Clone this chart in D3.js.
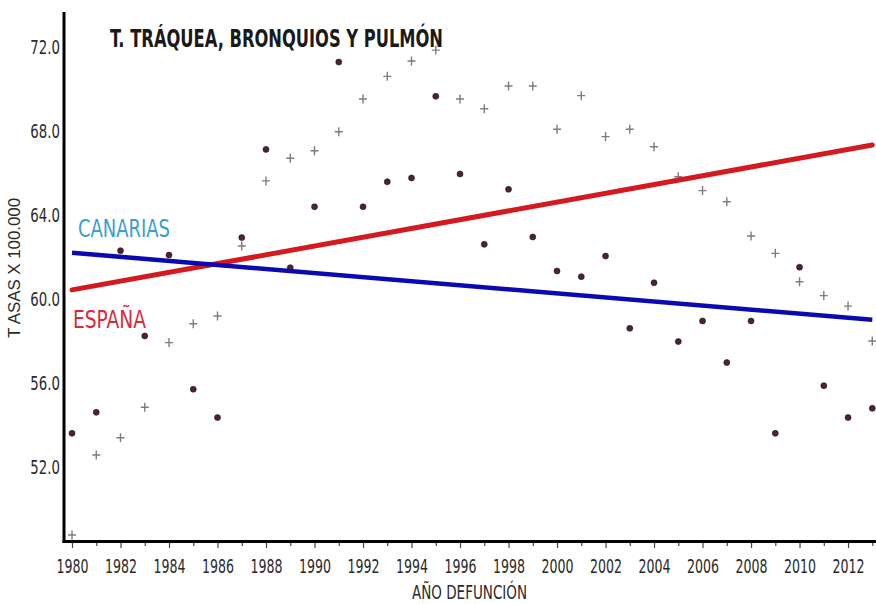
<!DOCTYPE html>
<html><head><meta charset="utf-8">
<script src="https://cdn.jsdelivr.net/npm/d3@7"></script>
<style>body{margin:0;background:#fff}svg{display:block}</style>
</head><body><svg id="c" width="876" height="604"></svg>
<script>
const years = [1980,1981,1982,1983,1984,1985,1986,1987,1988,1989,1990,1991,1992,1993,1994,1995,1996,
  1997,1998,1999,2000,2001,2002,2003,2004,2005,2006,2007,2008,2009,2010,2011,2012,2013];
// gray "+" markers
const crossValues = [48.62,52.43,53.25,54.70,57.78,58.68,59.05,62.38,65.48,66.56,66.92,67.82,69.38,70.46,
  71.19,71.71,69.38,68.92,70.00,70.00,67.94,69.54,67.59,67.94,67.11,65.68,65.02,64.49,62.86,62.03,60.68,60.02,59.52,57.86];
// dark dot markers
const dotValues = [53.46,54.46,62.16,58.10,61.95,55.56,54.21,62.78,66.98,61.35,64.25,71.14,64.25,65.44,
  65.62,69.51,65.81,62.46,65.08,62.81,61.19,60.92,61.90,58.46,60.63,57.83,58.81,56.83,58.81,53.46,61.37,55.73,54.21,54.65];
const trendYears = [1980, 2013];
const canariasTrend = [62.06, 58.87];
const espanaTrend = [60.29, 67.19];
const yTicks = [52, 56, 60, 64, 68, 72];
const xLabelYears = [1980,1982,1984,1986,1988,1990,1992,1994,1996,1998,2000,2002,2004,2006,2008,2010,2012];
const title = "T. TRÁQUEA, BRONQUIOS Y PULMÓN";
const yTitle = "T ASAS X 100.000";
const xTitle = "AÑO DEFUNCIÓN";

const narrow = "'Liberation Sans Narrow','Arial Narrow','DejaVu Sans Condensed','Liberation Sans',sans-serif";
const svg = d3.select("#c");
const x = d3.scaleLinear().domain([1980, 2013]).range([72, 872.3]);
const y = d3.scaleLinear().domain([52, 72]).range([464, 44]);

// points
svg.append("g").selectAll("path").data(years.map((yr,i)=>[yr,crossValues[i]])).join("path")
  .attr("d", d=>{const cx=x(d[0]), cy=y(d[1]); return `M${cx-4},${cy}H${cx+4}M${cx},${cy-4.5}V${cy+4.5}`;})
  .attr("stroke","#7d7d7d").attr("stroke-width",1.4).attr("fill","none");
svg.append("g").selectAll("circle").data(years.map((yr,i)=>[yr,dotValues[i]])).join("circle")
  .attr("cx",d=>x(d[0])).attr("cy",d=>y(d[1])).attr("r",3)
  .attr("fill","#4a2530").attr("stroke","#2a1015").attr("stroke-width",0.6);

// trend lines
const line = d3.line().x(d=>x(d[0])).y(d=>y(d[1]));
svg.append("path").datum(trendYears.map((yr,i)=>[yr,espanaTrend[i]])).attr("d",line)
  .attr("stroke","#d41a1f").attr("stroke-width",5).attr("fill","none").attr("stroke-linecap","round");
svg.append("path").datum(trendYears.map((yr,i)=>[yr,canariasTrend[i]])).attr("d",line)
  .attr("stroke","#0a0ab0").attr("stroke-width",4.5).attr("fill","none");

// x axis
const xAxis = d3.axisBottom(x).tickValues(years)
  .tickFormat(d=> xLabelYears.includes(d) ? String(d) : "").tickSizeOuter(0).tickPadding(9);
const gx = svg.append("g").attr("transform","translate(0,542)").call(xAxis);
gx.select(".domain").remove();
gx.selectAll(".tick line").attr("y2", d=> xLabelYears.includes(d) ? 6 : 4).attr("stroke","#444").attr("stroke-width",1.2);
gx.selectAll(".tick text").filter(d=>!xLabelYears.includes(d)).remove();
gx.selectAll(".tick text").attr("font-family",narrow).attr("font-size",20).attr("fill","#2a2a2a")
  .attr("dy",null).attr("y",31).attr("transform","scale(0.7,1)");

// y axis
const yAxis = d3.axisLeft(y).tickValues(yTicks).tickFormat(d3.format(".1f")).tickSize(0).tickPadding(4);
const gy = svg.append("g").attr("transform","translate(60,0)").call(yAxis);
gy.select(".domain").remove();
gy.selectAll(".tick text").attr("font-family",narrow).attr("font-size",19).attr("fill","#2a2a2a")
  .attr("x",0).attr("dy",null).attr("y",9.3).attr("transform","scale(0.78,1)");

// axis lines
svg.append("line").attr("x1",64).attr("x2",64).attr("y1",12).attr("y2",543).attr("stroke","#000").attr("stroke-width",3);
svg.append("line").attr("x1",62.5).attr("x2",876).attr("y1",541.5).attr("y2",541.5).attr("stroke","#000").attr("stroke-width",3);

// titles
svg.append("text").attr("x",110).attr("y",46.5).text(title)
  .attr("font-family",narrow).attr("font-weight","bold").attr("font-size",25).attr("fill","#1a1a1a")
  .attr("textLength",333).attr("lengthAdjust","spacingAndGlyphs");
svg.append("text").attr("x",469.5).attr("y",599).attr("text-anchor","middle").text(xTitle)
  .attr("font-family",narrow).attr("font-size",19).attr("fill","#2a2a2a")
  .attr("textLength",115).attr("lengthAdjust","spacingAndGlyphs");
svg.append("text").attr("transform","translate(20,268) rotate(-90)").attr("text-anchor","middle").text(yTitle)
  .attr("font-family","'Liberation Sans',Arial,sans-serif").attr("font-size",16).attr("fill","#2a2a2a")
  .attr("textLength",140).attr("lengthAdjust","spacingAndGlyphs");

// series labels
svg.append("text").attr("x",78).attr("y",237).text("CANARIAS")
  .attr("font-family",narrow).attr("font-size",25).attr("fill","#3a9ed2")
  .attr("textLength",92).attr("lengthAdjust","spacingAndGlyphs");
svg.append("text").attr("x",73).attr("y",328).text("ESPAÑA")
  .attr("font-family",narrow).attr("font-size",25).attr("fill","#d92a3c")
  .attr("textLength",73).attr("lengthAdjust","spacingAndGlyphs");
</script></body></html>
